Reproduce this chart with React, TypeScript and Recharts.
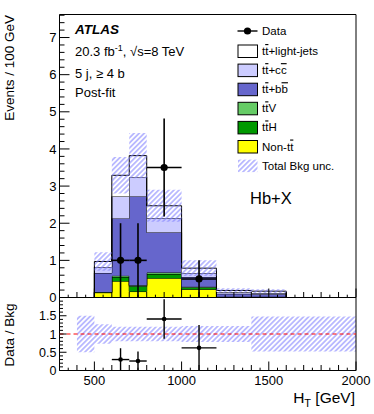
import React from 'react';
import { ComposedChart, Area, Scatter, ErrorBar, XAxis, YAxis, ReferenceLine, ReferenceArea } from 'recharts';

// bin low edges (GeV); the last edge closes the histogram
const binEdges = [400, 500, 600, 700, 800, 1000, 1200, 1400, 1600];
// events / 100 GeV per bin, bottom of the stack first
const nonTT = [0, 0.13, 0.44, 0.16, 0.52, 0.22, 0.01, 0.01];
const ttH = [0, 0.01, 0.11, 0.14, 0.11, 0.05, 0.005, 0.005];
const ttV = [0, 0.01, 0.035, 0.03, 0.04, 0.02, 0.005, 0.005];
const ttbb = [0, 0.51, 1.545, 2.39, 1.08, 0.26, 0.08, 0.07];
const ttcc = [0, 0.16, 0.59, 0.525, 0.39, 0.11, 0.04, 0.03];
const ttlight = [0, 0.15, 0.57, 0.575, 0.33, 0.13, 0.05, 0.05];
const bkgUnc = [0, 0.25, 0.49, 0.61, 0.43, 0.21, 0.06, 0.05];

// data points
const dataX = [650, 750, 900, 1100];
const dataXErr = [50, 50, 100, 100];
const dataY = [1.0, 1.0, 3.5, 0.5];
const dataYErr = [1.0, 1.0, 1.32, 0.5];

// ratio panel
const ratioY = [0.3, 0.26, 1.41, 0.62];
const ratioErrLo = [0.3, 0.26, 0.54, 0.62];
const ratioErrHi = [0.31, 0.26, 0.54, 0.63];
const ratioEdges = [400, 500, 600, 700, 800, 1000, 1200, 1400, 1600, 2000];
const ratioUnc = [0.5, 0.27, 0.2, 0.2, 0.2, 0.22, 0.22, 0.48, 0.48];

const mainYLabels = [0, 1, 2, 3, 4, 5, 6, 7];
const ratioYLabels = [0, 0.5, 1, 1.5];
const xLabels = [500, 1000, 1500, 2000];

const colors = {
  ttlight: '#ffffff',
  ttcc: '#ccccff',
  ttbb: '#6666cc',
  ttV: '#66cc66',
  ttH: '#009900',
  nonTT: '#ffff00',
};
const hatchColor = '#8080ff';
const font = '"Liberation Sans", Arial, Helvetica, sans-serif';

const mainRows = binEdges.map((x, i) => {
  const v = (a: number[]) => (i < a.length ? a[i] : 0);
  const total = v(nonTT) + v(ttH) + v(ttV) + v(ttbb) + v(ttcc) + v(ttlight);
  return {
    x,
    nonTT: v(nonTT),
    ttH: v(ttH),
    ttV: v(ttV),
    ttbb: v(ttbb),
    ttcc: v(ttcc),
    ttlight: v(ttlight),
    band: [total - v(bkgUnc), total + v(bkgUnc)],
  };
});

const ratioRows = ratioEdges.map((x, i) => {
  const u = ratioUnc[Math.min(i, ratioUnc.length - 1)];
  return { x, band: [1 - u, 1 + u] };
});

const dataPts = dataX.map((x, i) => ({ x, y: dataY[i], xErr: dataXErr[i], yErr: dataYErr[i] }));
const ratioPts = dataX.map((x, i) => ({ x, y: ratioY[i], xErr: dataXErr[i], yErr: [ratioErrLo[i], ratioErrHi[i]] }));

const xTicks = Array.from({ length: 35 }, (_, i) => 300 + 50 * i);
const mainYTicks = Array.from({ length: 39 }, (_, i) => Math.round(i * 2) / 10);
const ratioYTicks = Array.from({ length: 21 }, (_, i) => i / 10);

const yTick = (step: number, majorLen: number, minorLen: number, labels: number[], fs: number) => (p: any) => {
  const v = p.payload.value;
  const major = Math.abs(v / step - Math.round(v / step)) < 1e-6;
  return (
    <g>
      <line x1={p.x} x2={p.x + (major ? majorLen : minorLen)} y1={p.y} y2={p.y} stroke="#000" />
      {labels.includes(v) && (
        <text x={p.x - 3} y={p.y} dy={fs * 0.36} textAnchor="end" fontSize={fs} fill="#000" fontFamily={font}>
          {v}
        </text>
      )}
    </g>
  );
};

const xTick = (showLabels: boolean) => (p: any) => {
  const v = p.payload.value;
  const len = v % 500 === 0 ? 9 : v % 100 === 0 ? 5.5 : 2.8;
  return (
    <g>
      <line x1={p.x} x2={p.x} y1={p.y} y2={p.y - len} stroke="#000" />
      {showLabels && xLabels.includes(v) && (
        <text x={p.x} y={p.y + 14.5} textAnchor="middle" fontSize={13} fill="#000" fontFamily={font}>
          {v}
        </text>
      )}
    </g>
  );
};

const Hatch = ({ id }: { id: string }) => (
  <pattern id={id} patternUnits="userSpaceOnUse" width={3.6} height={3.6} patternTransform="rotate(45)">
    <line x1={1.8} y1={0} x2={1.8} y2={3.6} stroke={hatchColor} strokeWidth={1} />
  </pattern>
);

const Bar = ({ c }: { c: string }) => <tspan style={{ textDecoration: 'overline' }}>{c}</tspan>;

const legendItems = [
  { fill: colors.ttlight, label: <>t<Bar c="t" />+light-jets</> },
  { fill: colors.ttcc, label: <>t<Bar c="t" />+c<Bar c="c" /></> },
  { fill: colors.ttbb, label: <>t<Bar c="t" />+b<Bar c="b" /></> },
  { fill: colors.ttV, label: <>t<Bar c="t" />V</> },
  { fill: colors.ttH, label: <>t<Bar c="t" />H</> },
  { fill: colors.nonTT, label: <>Non-t<Bar c="t" /></> },
  { fill: 'url(#hatchLegend)', label: <>Total Bkg unc.</>, noBorder: true },
];

const Dot = (r: number) => (p: any) => <circle cx={p.cx} cy={p.cy} r={r} fill="#000" />;

export default function App() {
  return (
    <div style={{ position: 'absolute', left: 0, top: 0, width: 374, height: 414, background: '#fff', fontFamily: font }}>
      <div style={{ position: 'absolute', left: 0, top: 0 }}>
        <ComposedChart width={374} height={312} data={mainRows} margin={{ top: 14.5, right: 18, left: 58.5, bottom: 13.5 }}>
          <defs>
            <Hatch id="hatchMain" />
          </defs>
          <XAxis dataKey="x" type="number" domain={[300, 2000]} allowDataOverflow ticks={xTicks} interval={0}
            height={1} tickSize={0} tickMargin={0} axisLine={false} tickLine={false} tick={xTick(false)} />
          <YAxis type="number" domain={[0, 7.62]} allowDataOverflow ticks={mainYTicks} interval={0}
            width={1} tickSize={0} tickMargin={0} axisLine={false} tickLine={false} tick={yTick(1, 10, 5, mainYLabels, 13)} />
          <Area type="stepAfter" dataKey="nonTT" stackId="bkg" fill={colors.nonTT} fillOpacity={1} stroke="#000" strokeWidth={1} dot={false} activeDot={false} isAnimationActive={false} />
          <Area type="stepAfter" dataKey="ttH" stackId="bkg" fill={colors.ttH} fillOpacity={1} stroke="#000" strokeWidth={1} dot={false} activeDot={false} isAnimationActive={false} />
          <Area type="stepAfter" dataKey="ttV" stackId="bkg" fill={colors.ttV} fillOpacity={1} stroke="#000" strokeWidth={1} dot={false} activeDot={false} isAnimationActive={false} />
          <Area type="stepAfter" dataKey="ttbb" stackId="bkg" fill={colors.ttbb} fillOpacity={1} stroke="#000" strokeWidth={1} dot={false} activeDot={false} isAnimationActive={false} />
          <Area type="stepAfter" dataKey="ttcc" stackId="bkg" fill={colors.ttcc} fillOpacity={1} stroke="#000" strokeWidth={1} dot={false} activeDot={false} isAnimationActive={false} />
          <Area type="stepAfter" dataKey="ttlight" stackId="bkg" fill={colors.ttlight} fillOpacity={1} stroke="#000" strokeWidth={1} dot={false} activeDot={false} isAnimationActive={false} />
          <Area type="stepAfter" dataKey="band" fill="url(#hatchMain)" fillOpacity={1} stroke="none" dot={false} activeDot={false} isAnimationActive={false} />
          <Scatter data={dataPts} dataKey="y" shape={Dot(3.6)} isAnimationActive={false}>
            <ErrorBar dataKey="yErr" direction="y" width={0} stroke="#000" strokeWidth={1.6} />
            <ErrorBar dataKey="xErr" direction="x" width={0} stroke="#000" strokeWidth={1.6} />
          </Scatter>
          <ReferenceArea x1={300} x2={2000} y1={0} y2={7.62} fill="none" stroke="#000" strokeWidth={1} ifOverflow="visible" />
        </ComposedChart>
      </div>
      <div style={{ position: 'absolute', left: 0, top: 297 }}>
        <ComposedChart width={374} height={117} data={ratioRows} margin={{ top: 0.5, right: 18, left: 58.5, bottom: 42.5 }}>
          <defs>
            <Hatch id="hatchRatio" />
          </defs>
          <XAxis dataKey="x" type="number" domain={[300, 2000]} allowDataOverflow ticks={xTicks} interval={0}
            height={1} tickSize={0} tickMargin={0} axisLine={false} tickLine={false} tick={xTick(true)} />
          <YAxis type="number" domain={[0, 2]} allowDataOverflow ticks={ratioYTicks} interval={0}
            width={1} tickSize={0} tickMargin={0} axisLine={false} tickLine={false} tick={yTick(0.5, 7, 3.5, ratioYLabels, 12.5)} />
          <Area type="stepAfter" dataKey="band" fill="url(#hatchRatio)" fillOpacity={1} stroke="none" dot={false} activeDot={false} isAnimationActive={false} />
          <ReferenceLine y={1} stroke="#ff0000" strokeDasharray="4 3" strokeWidth={1} />
          <Scatter data={ratioPts} dataKey="y" shape={Dot(2.3)} isAnimationActive={false}>
            <ErrorBar dataKey="yErr" direction="y" width={0} stroke="#000" strokeWidth={1.4} />
            <ErrorBar dataKey="xErr" direction="x" width={0} stroke="#000" strokeWidth={1.4} />
          </Scatter>
          <ReferenceArea x1={300} x2={2000} y1={0} y2={2} fill="none" stroke="#000" strokeWidth={1} ifOverflow="visible" />
        </ComposedChart>
      </div>
      <svg width={374} height={414} style={{ position: 'absolute', left: 0, top: 0, pointerEvents: 'none' }} fontFamily={font}>
        <defs>
          <Hatch id="hatchLegend" />
        </defs>
        <text x={75} y={33.5} fontSize={13.5} fontWeight="bold" fontStyle="italic">ATLAS</text>
        <text x={75} y={55.5} fontSize={13}>
          20.3 fb<tspan dy={-5} fontSize={9}>-1</tspan><tspan dy={5}>, √s=8 TeV</tspan>
        </text>
        <text x={75} y={78} fontSize={13}>5 j, ≥ 4 b</text>
        <text x={75} y={97} fontSize={13}>Post-fit</text>

        <line x1={237.5} x2={257.5} y1={31} y2={31} stroke="#000" strokeWidth={1.4} />
        <circle cx={247.5} cy={31} r={3.6} fill="#000" />
        <text x={262} y={35} fontSize={11.5}>Data</text>
        {legendItems.map((it, i) => {
          const cy = 51 + i * 19.1;
          return (
            <g key={i}>
              <rect x={238} y={cy - 6} width={19.5} height={12.5} fill={it.fill} stroke={it.noBorder ? 'none' : '#000'} strokeWidth={1} />
              <text x={262} y={cy + 4} fontSize={11.5}>{it.label}</text>
            </g>
          );
        })}

        <text x={250} y={204} fontSize={16.5}>Hb+X</text>

        <text transform="translate(14,15) rotate(-90)" textAnchor="end" fontSize={13.5}>Events / 100 GeV</text>
        <text transform="translate(14,303.5) rotate(-90)" textAnchor="end" fontSize={13.5}>Data / Bkg</text>
        <text x={355} y={403} textAnchor="end" fontSize={15.5}>
          H<tspan dy={4} fontSize={11}>T</tspan><tspan dy={-4}> [GeV]</tspan>
        </text>
      </svg>
    </div>
  );
}
